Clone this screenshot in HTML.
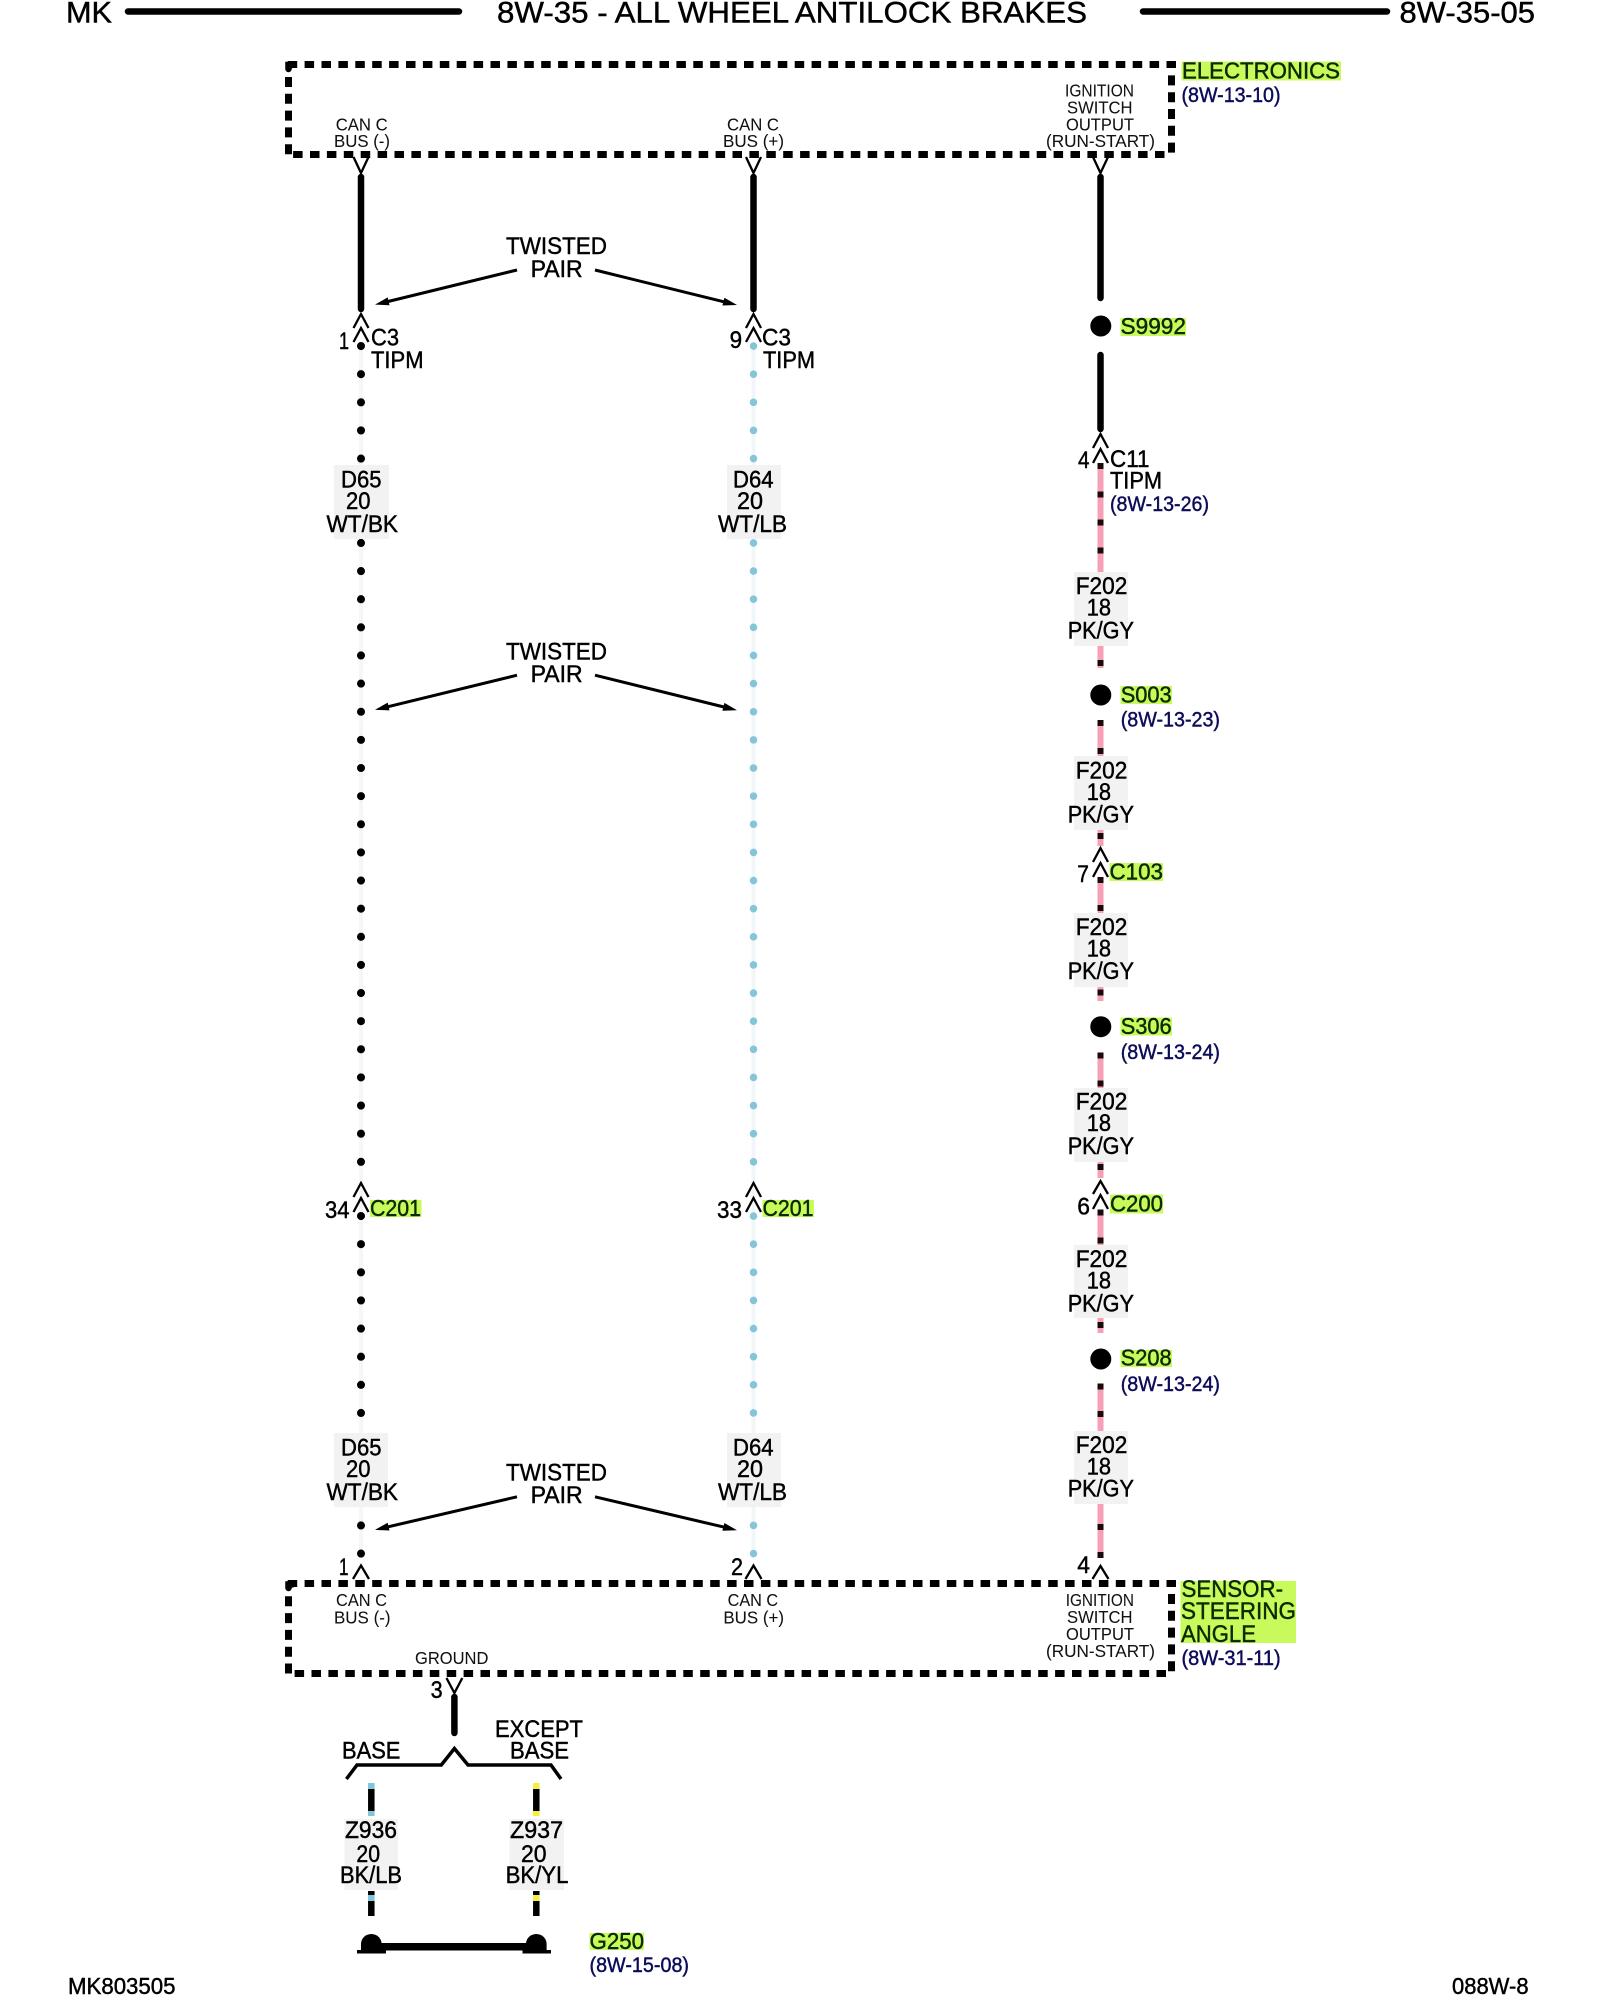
<!DOCTYPE html>
<html>
<head>
<meta charset="utf-8">
<style>
html,body{margin:0;padding:0;background:#fff;}
svg{display:block;}
text{font-family:"Liberation Sans",Arial,sans-serif;fill:#000;stroke:#000;stroke-width:.45;}
.h{font-size:30px;}
.t{font-size:24px;}
.s{font-size:17.500px;stroke-width:.05;fill:#111;stroke:#111;}
.r{font-size:21px;fill:#0c0c5a;stroke:#0c0c5a;}
.g{font-size:23px;fill:#0a2a00;stroke:#0a2a00;}
.f{font-size:23px;}
</style>
</head>
<body>
<svg xmlns="http://www.w3.org/2000/svg" width="1600" height="2000" viewBox="0 0 1600 2000">
<rect width="1600" height="2000" fill="#fff"/>

<!-- header -->
<text class="h" x="66" y="22.5" textLength="46" lengthAdjust="spacingAndGlyphs">MK</text>
<line x1="128" y1="11.5" x2="459" y2="11.5" stroke="#000" stroke-width="6.5" stroke-linecap="round"/>
<text class="h" x="497" y="22.5" textLength="590" lengthAdjust="spacingAndGlyphs">8W-35 - ALL WHEEL ANTILOCK BRAKES</text>
<line x1="1143" y1="11.5" x2="1387" y2="11.5" stroke="#000" stroke-width="6.5" stroke-linecap="round"/>
<text class="h" x="1399.5" y="22.5" textLength="135.5" lengthAdjust="spacingAndGlyphs">8W-35-05</text>

<!-- dashed module boxes -->
<g fill="none" stroke="#000" stroke-width="7" stroke-dasharray="9.500 7.400">
<line x1="1176" y1="64.5" x2="286" y2="64.5"/>
<line x1="1164.500" y1="154.5" x2="292" y2="154.5"/>
<line x1="288.5" y1="77" x2="288.5" y2="156" stroke-dasharray="10 6.800"/>
<line x1="1171.5" y1="75.400" x2="1171.5" y2="153" stroke-dasharray="10 6.800"/>
<line x1="1176" y1="1583.5" x2="286" y2="1583.5"/>
<line x1="1166" y1="1673.5" x2="292" y2="1673.5"/>
<line x1="288.5" y1="1596.300" x2="288.5" y2="1675" stroke-dasharray="10 6.800"/>
<line x1="1171.5" y1="1594" x2="1171.5" y2="1672" stroke-dasharray="10 6.800"/>
</g>
<g fill="none" stroke="#000" stroke-width="6.5" stroke-linecap="round">
<path d="M288.5 69V65H292M288.5 1588V1584.500H292"/>
</g>

<!-- faint wires -->
<line x1="361" y1="342" x2="361" y2="1556" stroke="#f6f6f6" stroke-width="4"/>
<line x1="753.5" y1="342" x2="753.5" y2="1556" stroke="#f1f7f8" stroke-width="4"/>

<!-- wire dots -->
<g fill="none" stroke-linecap="round" stroke-width="8" stroke="#000" stroke-dasharray="0.1 28.03">
<line x1="361" y1="346" x2="361" y2="1165"/>
<line x1="361" y1="1216" x2="361" y2="1556"/>
</g>
<g fill="none" stroke-linecap="round" stroke-width="7.500" stroke="#84c6d8" stroke-dasharray="0.1 28.03">
<line x1="753.5" y1="346" x2="753.5" y2="1165"/>
<line x1="753.5" y1="1216" x2="753.5" y2="1556"/>
</g>

<!-- solid black wires -->
<g stroke="#000" stroke-width="6.5" stroke-linecap="round" fill="none">
<line x1="361" y1="177" x2="361" y2="309"/>
<line x1="753.5" y1="177" x2="753.5" y2="309"/>
<line x1="1100.5" y1="177" x2="1100.5" y2="298"/>
<line x1="1100.5" y1="355" x2="1100.5" y2="429"/>
<line x1="454.4" y1="1697" x2="454.4" y2="1733"/>
</g>

<!-- pink wire segments -->
<g stroke="#f6a0b7" stroke-width="6" fill="none">
<path d="M1100.5 464V572M1100.5 646V668M1100.5 721V756M1100.5 830V846M1100.5 878V913M1100.5 987V1001M1100.5 1053V1088M1100.5 1162V1178M1100.5 1210V1245M1100.5 1318V1333M1100.5 1384V1431M1100.5 1504V1558"/>
</g>
<g stroke="#1a0a0a" stroke-width="6" fill="none">
<path d="M1100.5 463v6M1100.5 491.500v6M1100.5 519.500v6M1100.5 547.500v6M1100.5 660v6M1100.5 720v6M1100.5 748v6M1100.5 833v6M1100.5 877v6M1100.5 905v6M1100.5 989.500v6M1100.5 1052.500v6M1100.5 1080.500v6M1100.5 1164v6M1100.5 1209.500v6M1100.5 1237.500v6M1100.5 1322v6M1100.5 1383.500v6M1100.5 1411v6M1100.5 1524v6M1100.5 1552v6"/>
</g>

<!-- splice dots -->
<g fill="#000">
<circle cx="1100.8" cy="326" r="10.5"/>
<circle cx="1100.8" cy="695" r="10.5"/>
<circle cx="1100.8" cy="1026.7" r="10.5"/>
<circle cx="1100.8" cy="1359" r="10.5"/>
</g>

<!-- chevrons -->
<g fill="none" stroke="#000" stroke-width="2.3">
<path d="M353.5 157L361 173L368.500 157M746 157L753.500 173L761 157M1093 157L1100.500 173L1108 157"/>
<path d="M353.5 328L361 314L368.5 328M353.5 342L361 328L368.5 342M746 328L753.5 314L761 328M746 342L753.5 328L761 342"/>
<path d="M353.5 1197L361 1183L368.5 1197M353.5 1212L361 1198L368.5 1212M746 1197L753.5 1183L761 1197M746 1212L753.5 1198L761 1212"/>
<path d="M353 1579L361 1565.500L369 1579M745.500 1579L753.500 1565.500L761.500 1579M1092.500 1579L1100.500 1566L1108.500 1579"/>
<path d="M1093 448L1100.500 434L1108 448M1093 463L1100.500 449L1108 463M1093 862L1100.500 848L1108 862M1093 877L1100.500 863L1108 877M1093 1194L1100.500 1181L1108 1194M1093 1209L1100.500 1195L1108 1209"/>
<path d="M446.5 1678L454.400 1693L462.300 1678"/>
</g>

<!-- twisted pair arrows -->
<g>
<g fill="none" stroke="#000" stroke-width="3"><line x1="517" y1="270" x2="386" y2="302"/><line x1="595" y1="270" x2="726" y2="302.300"/></g>
<g fill="#000"><polygon points="375,304.600 389.500,305.200 387.700,297.400"/><polygon points="737,305 724.400,297.700 722.400,305.500"/></g>
</g>
<g transform="translate(0,405.200)">
<g fill="none" stroke="#000" stroke-width="3"><line x1="517" y1="270" x2="386" y2="302"/><line x1="595" y1="270" x2="726" y2="302.300"/></g>
<g fill="#000"><polygon points="375,304.600 389.500,305.200 387.700,297.400"/><polygon points="737,305 724.400,297.700 722.400,305.500"/></g>
</g>
<g transform="translate(0,1225.300)">
<g fill="none" stroke="#000" stroke-width="3"><line x1="517" y1="271.500" x2="386" y2="302"/><line x1="595" y1="271.500" x2="726" y2="302.300"/></g>
<g fill="#000"><polygon points="375,304.600 389.500,305.200 387.700,297.400"/><polygon points="737,305 724.400,297.700 722.400,305.500"/></g>
</g>

<!-- wire label backgrounds -->
<g fill="#f2f2f2">
<rect x="334" y="465" width="55" height="74"/>
<rect x="727" y="465" width="54" height="74"/>
<rect x="334" y="1433" width="54" height="74"/>
<rect x="727" y="1433" width="54" height="74"/>
<rect x="1074" y="572" width="54" height="74"/>
<rect x="1074" y="756" width="54" height="74"/>
<rect x="1074" y="913" width="54" height="74"/>
<rect x="1074" y="1088" width="54" height="74"/>
<rect x="1074" y="1245" width="54" height="73"/>
<rect x="1074" y="1431" width="54" height="73"/>
<rect x="344.500" y="1819" width="53.500" height="71"/>
<rect x="509.500" y="1819" width="54.500" height="71"/>
</g>

<!-- highlights -->
<g fill="#c8fa5c">
<rect x="1181.500" y="61.500" width="159.500" height="19"/>
<rect x="1120.500" y="318" width="65.500" height="18"/>
<rect x="1120.500" y="686" width="51.500" height="18"/>
<rect x="1109.500" y="863" width="53.500" height="18"/>
<rect x="1120.500" y="1017.500" width="51.500" height="18"/>
<rect x="1110" y="1194.500" width="53" height="19"/>
<rect x="1120.500" y="1350" width="51.500" height="17"/>
<rect x="1180.500" y="1581" width="115.500" height="62"/>
<rect x="370" y="1200" width="51.500" height="17"/>
<rect x="762.500" y="1200" width="51.500" height="17"/>
<rect x="589.500" y="1933" width="54.500" height="17"/>
</g>

<!-- top module labels -->
<text class="s" x="335.700" y="130.400" textLength="52" lengthAdjust="spacingAndGlyphs">CAN C</text>
<text class="s" x="334" y="147" textLength="56" lengthAdjust="spacingAndGlyphs">BUS (-)</text>
<text class="s" x="727" y="130.400" textLength="52" lengthAdjust="spacingAndGlyphs">CAN C</text>
<text class="s" x="723" y="147" textLength="61" lengthAdjust="spacingAndGlyphs">BUS (+)</text>
<text class="s" x="1065" y="96.400" textLength="69" lengthAdjust="spacingAndGlyphs">IGNITION</text>
<text class="s" x="1067" y="113.600" textLength="65.500" lengthAdjust="spacingAndGlyphs">SWITCH</text>
<text class="s" x="1066" y="130.400" textLength="68" lengthAdjust="spacingAndGlyphs">OUTPUT</text>
<text class="s" x="1046" y="147" textLength="109" lengthAdjust="spacingAndGlyphs">(RUN-START)</text>
<text class="g" x="1182" y="78.500" textLength="158" lengthAdjust="spacingAndGlyphs">ELECTRONICS</text>
<text class="r" x="1181.500" y="101.800" textLength="99" lengthAdjust="spacingAndGlyphs">(8W-13-10)</text>

<!-- twisted pair text -->
<text class="t" x="506" y="254" textLength="101" lengthAdjust="spacingAndGlyphs">TWISTED</text>
<text class="t" x="530.600" y="277" textLength="52" lengthAdjust="spacingAndGlyphs">PAIR</text>
<text class="t" x="506" y="659.300" textLength="101" lengthAdjust="spacingAndGlyphs">TWISTED</text>
<text class="t" x="530.600" y="682" textLength="52" lengthAdjust="spacingAndGlyphs">PAIR</text>
<text class="t" x="506" y="1480.300" textLength="101" lengthAdjust="spacingAndGlyphs">TWISTED</text>
<text class="t" x="530.600" y="1503.200" textLength="52" lengthAdjust="spacingAndGlyphs">PAIR</text>

<!-- C3 connectors -->
<text class="t" x="339" y="349" textLength="10" lengthAdjust="spacingAndGlyphs">1</text>
<text class="t" x="371" y="345.700" textLength="28" lengthAdjust="spacingAndGlyphs">C3</text>
<text class="t" x="371" y="368" textLength="52.500" lengthAdjust="spacingAndGlyphs">TIPM</text>
<text class="t" x="729.600" y="348" textLength="12.500" lengthAdjust="spacingAndGlyphs">9</text>
<text class="t" x="762" y="345.700" textLength="29" lengthAdjust="spacingAndGlyphs">C3</text>
<text class="t" x="763" y="368" textLength="52" lengthAdjust="spacingAndGlyphs">TIPM</text>

<!-- D65 / D64 labels -->
<text class="t" x="341" y="487.500" textLength="40.500" lengthAdjust="spacingAndGlyphs">D65</text>
<text class="t" x="346" y="509" textLength="24.500" lengthAdjust="spacingAndGlyphs">20</text>
<text class="t" x="326.500" y="532" textLength="71.500" lengthAdjust="spacingAndGlyphs">WT/BK</text>
<text class="t" x="733" y="487.500" textLength="40.500" lengthAdjust="spacingAndGlyphs">D64</text>
<text class="t" x="737" y="509" textLength="26" lengthAdjust="spacingAndGlyphs">20</text>
<text class="t" x="718" y="532" textLength="69" lengthAdjust="spacingAndGlyphs">WT/LB</text>
<text class="t" x="341" y="1455.500" textLength="40.500" lengthAdjust="spacingAndGlyphs">D65</text>
<text class="t" x="346" y="1477" textLength="24.500" lengthAdjust="spacingAndGlyphs">20</text>
<text class="t" x="326.500" y="1500" textLength="71.500" lengthAdjust="spacingAndGlyphs">WT/BK</text>
<text class="t" x="733" y="1455.500" textLength="40.500" lengthAdjust="spacingAndGlyphs">D64</text>
<text class="t" x="737" y="1477" textLength="26" lengthAdjust="spacingAndGlyphs">20</text>
<text class="t" x="718" y="1500" textLength="69" lengthAdjust="spacingAndGlyphs">WT/LB</text>

<!-- C201 -->
<text class="t" x="325" y="1218" textLength="24.500" lengthAdjust="spacingAndGlyphs">34</text>
<text class="g" x="370" y="1216" textLength="51" lengthAdjust="spacingAndGlyphs">C201</text>
<text class="t" x="717" y="1218" textLength="25" lengthAdjust="spacingAndGlyphs">33</text>
<text class="g" x="762.500" y="1216" textLength="51" lengthAdjust="spacingAndGlyphs">C201</text>

<!-- right column -->
<text class="g" x="1120.500" y="334" textLength="65.500" lengthAdjust="spacingAndGlyphs">S9992</text>
<text class="t" x="1078" y="468" textLength="11.500" lengthAdjust="spacingAndGlyphs">4</text>
<text class="t" x="1110" y="467" textLength="39.500" lengthAdjust="spacingAndGlyphs">C11</text>
<text class="t" x="1110" y="488.600" textLength="52" lengthAdjust="spacingAndGlyphs">TIPM</text>
<text class="r" x="1110" y="511" textLength="99" lengthAdjust="spacingAndGlyphs">(8W-13-26)</text>

<text class="t" x="1075.700" y="594" textLength="51.600" lengthAdjust="spacingAndGlyphs">F202</text>
<text class="t" x="1086.700" y="615.700" textLength="24.300" lengthAdjust="spacingAndGlyphs">18</text>
<text class="t" x="1067.700" y="638.300" textLength="66.300" lengthAdjust="spacingAndGlyphs">PK/GY</text>

<text class="g" x="1120.700" y="702.300" textLength="51" lengthAdjust="spacingAndGlyphs">S003</text>
<text class="r" x="1120.700" y="726.700" textLength="99.300" lengthAdjust="spacingAndGlyphs">(8W-13-23)</text>

<text class="t" x="1075.700" y="778.300" textLength="51.600" lengthAdjust="spacingAndGlyphs">F202</text>
<text class="t" x="1086.700" y="800" textLength="24.300" lengthAdjust="spacingAndGlyphs">18</text>
<text class="t" x="1067.700" y="822.700" textLength="66.300" lengthAdjust="spacingAndGlyphs">PK/GY</text>

<text class="t" x="1077.300" y="882" textLength="11.700" lengthAdjust="spacingAndGlyphs">7</text>
<text class="g" x="1109.500" y="879.700" textLength="53.500" lengthAdjust="spacingAndGlyphs">C103</text>

<text class="t" x="1075.700" y="935" textLength="51.600" lengthAdjust="spacingAndGlyphs">F202</text>
<text class="t" x="1086.700" y="956.700" textLength="24.300" lengthAdjust="spacingAndGlyphs">18</text>
<text class="t" x="1067.700" y="979" textLength="66.300" lengthAdjust="spacingAndGlyphs">PK/GY</text>

<text class="g" x="1120.700" y="1034" textLength="51" lengthAdjust="spacingAndGlyphs">S306</text>
<text class="r" x="1120.700" y="1059" textLength="99.300" lengthAdjust="spacingAndGlyphs">(8W-13-24)</text>

<text class="t" x="1075.700" y="1109.300" textLength="51.600" lengthAdjust="spacingAndGlyphs">F202</text>
<text class="t" x="1086.700" y="1131" textLength="24.300" lengthAdjust="spacingAndGlyphs">18</text>
<text class="t" x="1067.700" y="1154" textLength="66.300" lengthAdjust="spacingAndGlyphs">PK/GY</text>

<text class="t" x="1077.300" y="1214.300" textLength="12.700" lengthAdjust="spacingAndGlyphs">6</text>
<text class="g" x="1110" y="1211.400" textLength="53" lengthAdjust="spacingAndGlyphs">C200</text>

<text class="t" x="1075.700" y="1266.800" textLength="51.600" lengthAdjust="spacingAndGlyphs">F202</text>
<text class="t" x="1086.700" y="1288.600" textLength="24.300" lengthAdjust="spacingAndGlyphs">18</text>
<text class="t" x="1067.700" y="1311.400" textLength="66.300" lengthAdjust="spacingAndGlyphs">PK/GY</text>

<text class="g" x="1120.700" y="1365.700" textLength="51" lengthAdjust="spacingAndGlyphs">S208</text>
<text class="r" x="1120.700" y="1391" textLength="99.300" lengthAdjust="spacingAndGlyphs">(8W-13-24)</text>

<text class="t" x="1075.700" y="1453" textLength="51.600" lengthAdjust="spacingAndGlyphs">F202</text>
<text class="t" x="1086.700" y="1474.500" textLength="24.300" lengthAdjust="spacingAndGlyphs">18</text>
<text class="t" x="1067.700" y="1496.500" textLength="66.300" lengthAdjust="spacingAndGlyphs">PK/GY</text>

<!-- bottom module -->
<text class="t" x="339" y="1575" textLength="9.500" lengthAdjust="spacingAndGlyphs">1</text>
<text class="t" x="731" y="1575" textLength="12" lengthAdjust="spacingAndGlyphs">2</text>
<text class="t" x="1077.300" y="1573" textLength="12.700" lengthAdjust="spacingAndGlyphs">4</text>
<text class="s" x="336" y="1606" textLength="51" lengthAdjust="spacingAndGlyphs">CAN C</text>
<text class="s" x="334" y="1623.500" textLength="56.500" lengthAdjust="spacingAndGlyphs">BUS (-)</text>
<text class="s" x="727.600" y="1606" textLength="50.500" lengthAdjust="spacingAndGlyphs">CAN C</text>
<text class="s" x="723.400" y="1623.500" textLength="60.600" lengthAdjust="spacingAndGlyphs">BUS (+)</text>
<text class="s" x="1065.700" y="1606" textLength="68.300" lengthAdjust="spacingAndGlyphs">IGNITION</text>
<text class="s" x="1067" y="1623" textLength="65.500" lengthAdjust="spacingAndGlyphs">SWITCH</text>
<text class="s" x="1066" y="1640" textLength="68" lengthAdjust="spacingAndGlyphs">OUTPUT</text>
<text class="s" x="1046" y="1657" textLength="109" lengthAdjust="spacingAndGlyphs">(RUN-START)</text>
<text class="s" x="415" y="1664" textLength="73.400" lengthAdjust="spacingAndGlyphs">GROUND</text>
<text class="t" x="1181.500" y="1597" textLength="101.500" lengthAdjust="spacingAndGlyphs" style="fill:#0a2a00;stroke:#0a2a00">SENSOR-</text>
<text class="t" x="1181" y="1619" textLength="115" lengthAdjust="spacingAndGlyphs" style="fill:#0a2a00;stroke:#0a2a00">STEERING</text>
<text class="t" x="1181" y="1642" textLength="75" lengthAdjust="spacingAndGlyphs" style="fill:#0a2a00;stroke:#0a2a00">ANGLE</text>
<text class="r" x="1181.500" y="1665" textLength="99.200" lengthAdjust="spacingAndGlyphs">(8W-31-11)</text>

<!-- ground splice -->
<text class="t" x="430.600" y="1698" textLength="12" lengthAdjust="spacingAndGlyphs">3</text>
<text class="t" x="495" y="1737" textLength="88" lengthAdjust="spacingAndGlyphs">EXCEPT</text>
<text class="t" x="510" y="1758.500" textLength="59" lengthAdjust="spacingAndGlyphs">BASE</text>
<text class="t" x="342" y="1758.500" textLength="58.400" lengthAdjust="spacingAndGlyphs">BASE</text>
<path d="M346.400 1779L357 1765H441.300L454.400 1748.500L468 1765H551L561 1779" fill="none" stroke="#000" stroke-width="3.500"/>

<g fill="none" stroke-width="6.500">
<path d="M371.300 1783V1789M371.300 1811V1816M371.300 1895V1901" stroke="#7fc6d8"/>
<path d="M536.300 1783V1789M536.300 1811V1816M536.300 1895V1901" stroke="#f5ee3a"/>
<path d="M371.300 1789V1811M371.300 1891V1895M371.300 1901V1916M536.300 1789V1811M536.300 1891V1895M536.300 1901V1916" stroke="#000"/>
</g>

<text class="t" x="345" y="1838" textLength="52" lengthAdjust="spacingAndGlyphs">Z936</text>
<text class="t" x="356.400" y="1862" textLength="23.600" lengthAdjust="spacingAndGlyphs">20</text>
<text class="t" x="340" y="1883" textLength="62" lengthAdjust="spacingAndGlyphs">BK/LB</text>
<text class="t" x="510" y="1838" textLength="53" lengthAdjust="spacingAndGlyphs">Z937</text>
<text class="t" x="521" y="1862" textLength="25.600" lengthAdjust="spacingAndGlyphs">20</text>
<text class="t" x="505.600" y="1883" textLength="62.800" lengthAdjust="spacingAndGlyphs">BK/YL</text>

<!-- grounds -->
<g fill="#000">
<path d="M361 1951V1944A10.300 10 0 0 1 381.600 1944V1951Z"/>
<path d="M526 1951V1944A10.300 10 0 0 1 546.600 1944V1951Z"/>
<rect x="357" y="1950" width="29" height="3.500"/>
<rect x="522.500" y="1950" width="28.500" height="3.500"/>
<rect x="378" y="1943" width="150" height="7.500"/>
</g>
<text class="g" x="589.500" y="1949" textLength="54.500" lengthAdjust="spacingAndGlyphs">G250</text>
<text class="r" x="589.500" y="1972" textLength="99.500" lengthAdjust="spacingAndGlyphs">(8W-15-08)</text>

<!-- footer -->
<text class="f" x="68" y="1994" textLength="107.500" lengthAdjust="spacingAndGlyphs">MK803505</text>
<text class="f" x="1452" y="1994" textLength="76.600" lengthAdjust="spacingAndGlyphs">088W-8</text>
</svg>
</body>
</html>
